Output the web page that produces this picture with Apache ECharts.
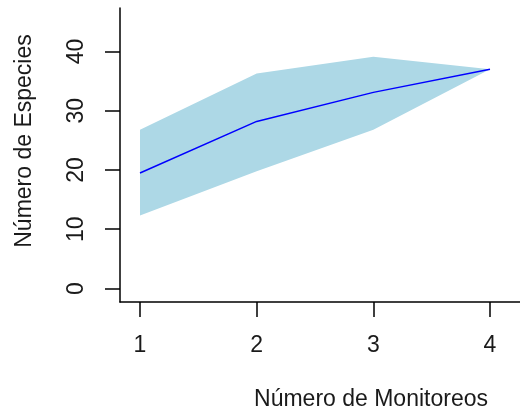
<!DOCTYPE html>
<html>
<head>
<meta charset="utf-8">
<script src="https://cdn.jsdelivr.net/npm/echarts@6/dist/echarts.min.js"></script>
<style>html,body{margin:0;padding:0;background:#fff}#c{width:520px;height:414px}</style>
</head>
<body>
<div id="c"></div>
<script>
var xValues = [1, 2, 3, 4];
var meanValues = [19.5, 28.2, 33.1, 37.0];
var upperValues = [26.8, 36.3, 39.1, 37.0];
var lowerValues = [12.3, 19.8, 26.8, 37.0];
var xTicks = [1, 2, 3, 4];
var yTicks = [0, 10, 20, 30, 40];
var xTitle = 'Número de Monitoreos';
var yTitle = 'Número de Especies';

var FONT = 'Liberation Sans, Arial, sans-serif';
var TXT = '#1a1a1a';

var chart = echarts.init(document.getElementById('c'), null, {renderer: 'canvas'});
var bandData = xValues.map(function (x, i) { return [x, lowerValues[i], upperValues[i]]; });

chart.setOption({
  animation: false,
  grid: {left: 120, right: 0, top: 8, bottom: 112},
  xAxis: {
    type: 'value', min: 0.8286, max: 4.257,
    axisLine: {show: true, onZero: false, lineStyle: {color: '#000', width: 1.5}},
    axisTick: {show: true, length: 15, customValues: xTicks, lineStyle: {color: '#000', width: 1.5}},
    axisLabel: {customValues: xTicks, fontSize: 23, fontFamily: FONT, color: TXT, margin: 32},
    splitLine: {show: false}
  },
  yAxis: {
    type: 'value', min: -2.278, max: 47.34,
    axisLine: {show: true, onZero: false, lineStyle: {color: '#000', width: 1.5}},
    axisTick: {show: true, length: 15, customValues: yTicks, lineStyle: {color: '#000', width: 1.5}},
    axisLabel: {customValues: yTicks, rotate: 90, fontSize: 23, fontFamily: FONT, color: TXT, margin: 32},
    splitLine: {show: false}
  },
  graphic: [
    {type: 'text', x: 371, y: 400, style: {text: xTitle, font: '23px ' + FONT, fill: TXT, align: 'center', verticalAlign: 'middle'}},
    {type: 'text', x: 25, y: 141, rotation: Math.PI / 2, style: {text: yTitle, font: '23px ' + FONT, fill: TXT, align: 'center', verticalAlign: 'middle'}}
  ],
  series: [
    {
      type: 'custom',
      data: bandData,
      clip: true,
      renderItem: function (params, api) {
        if (params.dataIndex !== 0) return null;
        var pts = [];
        for (var i = 0; i < bandData.length; i++) pts.push(api.coord([bandData[i][0], bandData[i][2]]));
        for (var j = bandData.length - 1; j >= 0; j--) pts.push(api.coord([bandData[j][0], bandData[j][1]]));
        return {type: 'polygon', shape: {points: pts}, style: {fill: '#ADD8E6', stroke: null}};
      },
      z: 1
    },
    {
      type: 'line',
      data: xValues.map(function (x, i) { return [x, meanValues[i]]; }),
      showSymbol: false,
      lineStyle: {color: '#0000FF', width: 1.5},
      z: 2
    }
  ]
});
</script>
</body>
</html>
